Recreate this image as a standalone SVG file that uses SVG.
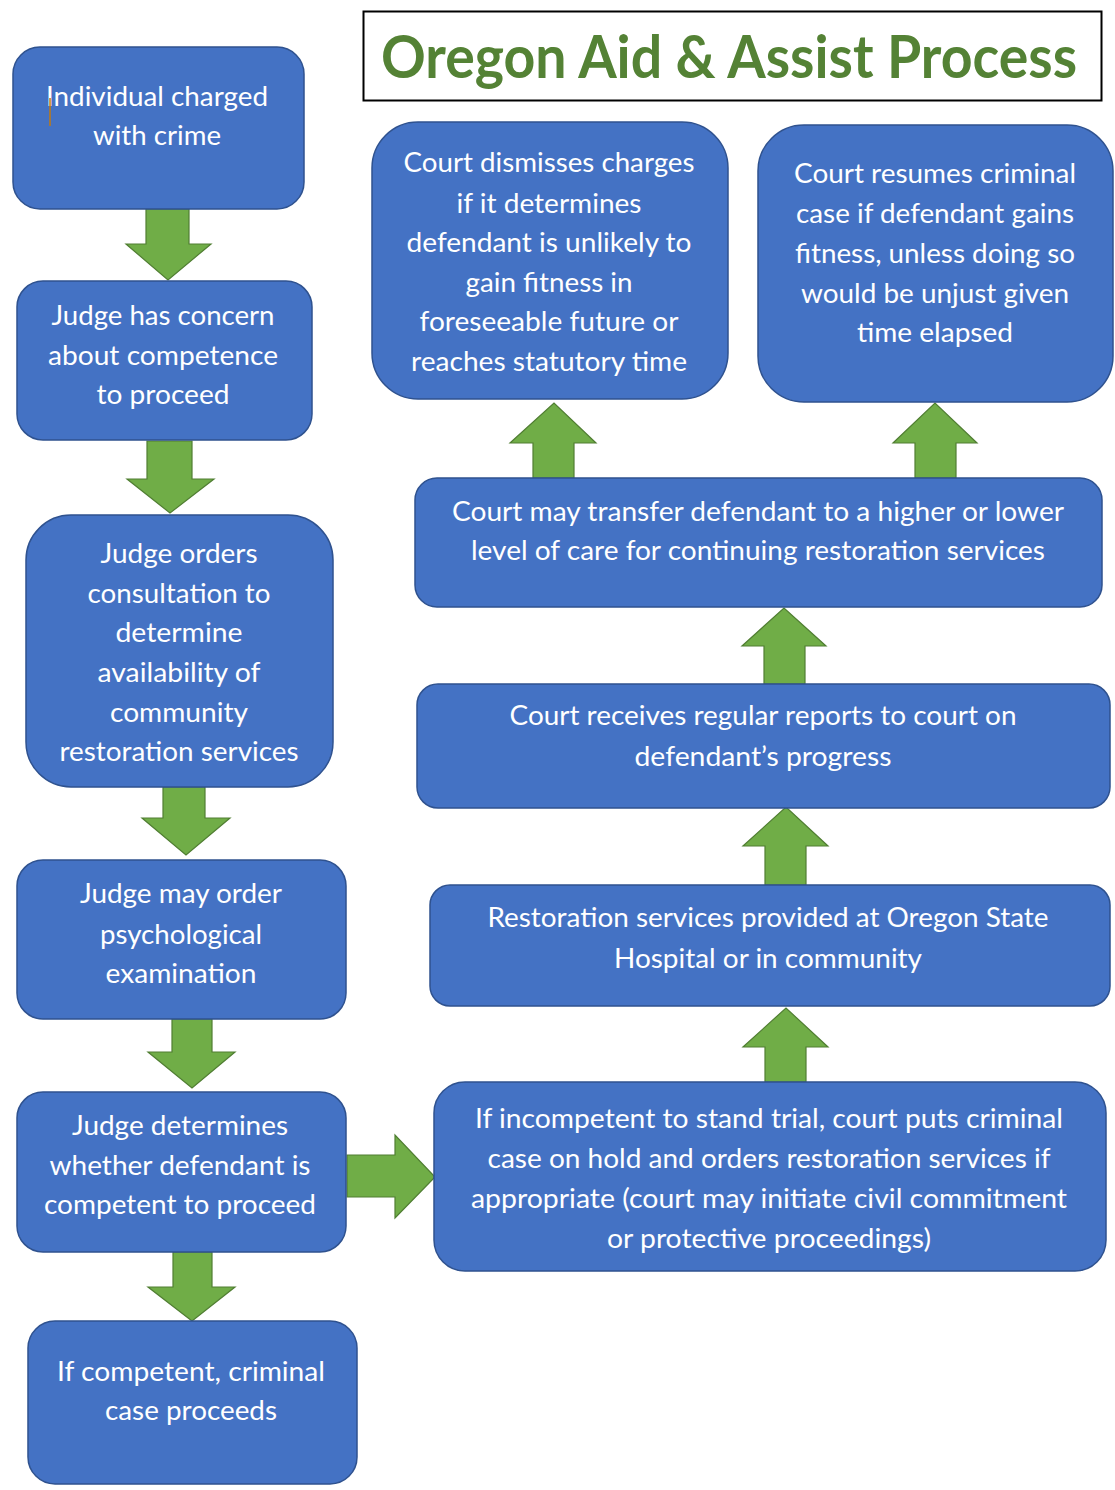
<svg xmlns="http://www.w3.org/2000/svg" width="1115" height="1490" viewBox="0 0 1115 1490">
<style>
.box{fill:#4472C4;stroke:#2F528F;stroke-width:1.5}
.arr{fill:#70AD47;stroke:#507E32;stroke-width:1.2}
.t{font-family:Lato,"Open Sans","Liberation Sans",sans-serif;font-size:27px;fill:#FFFFFF;text-anchor:middle}
.title{font-family:Lato,"Open Sans","Liberation Sans",sans-serif;font-size:60px;font-weight:bold;fill:#548235;text-anchor:middle}
</style>
<rect width="1115" height="1490" fill="#FFFFFF"/>
<g id="title">
<rect x="363.5" y="11.5" width="738" height="89" fill="#FFFFFF" stroke="#000000" stroke-width="2"/>
<text class="title" x="729" y="78" textLength="696" lengthAdjust="spacingAndGlyphs">Oregon Aid &amp; Assist Process</text>
</g>
<g id="connectors">
<path class="arr" d="M146,209 H189 V244 H211 L168,280 L126,244 H146 Z"/>
<path class="arr" d="M147,441 H192 V479 H214 L170,513 L127,479 H147 Z"/>
<path class="arr" d="M163,787 H205 V818 H230 L186,855 L142,818 H163 Z"/>
<path class="arr" d="M172,1019 H212 V1052 H235 L192,1088 L148,1052 H172 Z"/>
<path class="arr" d="M173,1252 H212 V1287 H235 L192,1321 L148,1287 H173 Z"/>
<path class="arr" d="M347,1155 H395 V1135 L435,1177 L395,1218 V1197 H347 Z"/>
<path class="arr" d="M533,478 V443 H510 L554,403 L596,443 H574 V478 Z"/>
<path class="arr" d="M915,478 V443 H893 L935,403 L977,443 H956 V478 Z"/>
<path class="arr" d="M764,684 V646 H742 L784,608 L826,646 H805 V684 Z"/>
<path class="arr" d="M765,885 V846 H743 L786,807 L828,846 H806 V885 Z"/>
<path class="arr" d="M765,1082 V1047 H743 L786,1008 L828,1047 H806 V1082 Z"/>
</g>
<g id="n1">
<rect class="box" x="13" y="47" width="291" height="162" rx="27"/>
<text class="t" x="157" y="106" textLength="222" lengthAdjust="spacingAndGlyphs">Individual charged</text>
<text class="t" x="157" y="145" textLength="128" lengthAdjust="spacingAndGlyphs">with crime</text>
<line x1="50" y1="98" x2="50" y2="126" stroke="#C07A10" stroke-width="1.5"/>
</g>
<g id="n2">
<rect class="box" x="17" y="281" width="295" height="159" rx="26"/>
<text class="t" x="163" y="325" textLength="223" lengthAdjust="spacingAndGlyphs">Judge has concern</text>
<text class="t" x="163" y="365" textLength="230" lengthAdjust="spacingAndGlyphs">about competence</text>
<text class="t" x="163" y="404" textLength="133" lengthAdjust="spacingAndGlyphs">to proceed</text>
</g>
<g id="n3">
<rect class="box" x="26" y="515" width="307" height="272" rx="45"/>
<text class="t" x="179" y="563" textLength="157" lengthAdjust="spacingAndGlyphs">Judge orders</text>
<text class="t" x="179" y="603" textLength="183" lengthAdjust="spacingAndGlyphs">consultation to</text>
<text class="t" x="179" y="642" textLength="127" lengthAdjust="spacingAndGlyphs">determine</text>
<text class="t" x="179" y="682" textLength="163" lengthAdjust="spacingAndGlyphs">availability of</text>
<text class="t" x="179" y="722" textLength="138" lengthAdjust="spacingAndGlyphs">community</text>
<text class="t" x="179" y="761" textLength="239" lengthAdjust="spacingAndGlyphs">restoration services</text>
</g>
<g id="n4">
<rect class="box" x="17" y="860" width="329" height="159" rx="26"/>
<text class="t" x="181" y="903" textLength="202" lengthAdjust="spacingAndGlyphs">Judge may order</text>
<text class="t" x="181" y="944" textLength="162" lengthAdjust="spacingAndGlyphs">psychological</text>
<text class="t" x="181" y="983" textLength="151" lengthAdjust="spacingAndGlyphs">examination</text>
</g>
<g id="n5">
<rect class="box" x="17" y="1092" width="329" height="160" rx="26"/>
<text class="t" x="180" y="1135" textLength="216" lengthAdjust="spacingAndGlyphs">Judge determines</text>
<text class="t" x="180" y="1175" textLength="261" lengthAdjust="spacingAndGlyphs">whether defendant is</text>
<text class="t" x="180" y="1214" textLength="272" lengthAdjust="spacingAndGlyphs">competent to proceed</text>
</g>
<g id="n6">
<rect class="box" x="28" y="1321" width="329" height="163" rx="27"/>
<text class="t" x="191" y="1381" textLength="268" lengthAdjust="spacingAndGlyphs">If competent, criminal</text>
<text class="t" x="191" y="1420" textLength="172" lengthAdjust="spacingAndGlyphs">case proceeds</text>
</g>
<g id="n7">
<rect class="box" x="372" y="122" width="356" height="277" rx="46"/>
<text class="t" x="549" y="172" textLength="291" lengthAdjust="spacingAndGlyphs">Court dismisses charges</text>
<text class="t" x="549" y="213" textLength="185" lengthAdjust="spacingAndGlyphs">if it determines</text>
<text class="t" x="549" y="252" textLength="285" lengthAdjust="spacingAndGlyphs">defendant is unlikely to</text>
<text class="t" x="549" y="292" textLength="167" lengthAdjust="spacingAndGlyphs">gain fitness in</text>
<text class="t" x="549" y="331" textLength="259" lengthAdjust="spacingAndGlyphs">foreseeable future or</text>
<text class="t" x="549" y="371" textLength="276" lengthAdjust="spacingAndGlyphs">reaches statutory time</text>
</g>
<g id="n8">
<rect class="box" x="758" y="125" width="355" height="277" rx="46"/>
<text class="t" x="935" y="183" textLength="282" lengthAdjust="spacingAndGlyphs">Court resumes criminal</text>
<text class="t" x="935" y="223" textLength="278" lengthAdjust="spacingAndGlyphs">case if defendant gains</text>
<text class="t" x="935" y="263" textLength="280" lengthAdjust="spacingAndGlyphs">fitness, unless doing so</text>
<text class="t" x="935" y="303" textLength="268" lengthAdjust="spacingAndGlyphs">would be unjust given</text>
<text class="t" x="935" y="342" textLength="156" lengthAdjust="spacingAndGlyphs">time elapsed</text>
</g>
<g id="n9">
<rect class="box" x="415" y="478" width="687" height="129" rx="22"/>
<text class="t" x="758" y="521" textLength="612" lengthAdjust="spacingAndGlyphs">Court may transfer defendant to a higher or lower</text>
<text class="t" x="758" y="560" textLength="574" lengthAdjust="spacingAndGlyphs">level of care for continuing restoration services</text>
</g>
<g id="n10">
<rect class="box" x="417" y="684" width="693" height="124" rx="21"/>
<text class="t" x="763" y="725" textLength="507" lengthAdjust="spacingAndGlyphs">Court receives regular reports to court on</text>
<text class="t" x="763" y="766" textLength="257" lengthAdjust="spacingAndGlyphs">defendant’s progress</text>
</g>
<g id="n11">
<rect class="box" x="430" y="885" width="680" height="121" rx="20"/>
<text class="t" x="768" y="927" textLength="561" lengthAdjust="spacingAndGlyphs">Restoration services provided at Oregon State</text>
<text class="t" x="768" y="968" textLength="308" lengthAdjust="spacingAndGlyphs">Hospital or in community</text>
</g>
<g id="n12">
<rect class="box" x="434" y="1082" width="672" height="189" rx="31"/>
<text class="t" x="769" y="1128" textLength="588" lengthAdjust="spacingAndGlyphs">If incompetent to stand trial, court puts criminal</text>
<text class="t" x="769" y="1168" textLength="563" lengthAdjust="spacingAndGlyphs">case on hold and orders restoration services if</text>
<text class="t" x="769" y="1208" textLength="596" lengthAdjust="spacingAndGlyphs">appropriate (court may initiate civil commitment</text>
<text class="t" x="769" y="1248" textLength="324" lengthAdjust="spacingAndGlyphs">or protective proceedings)</text>
</g>
</svg>
